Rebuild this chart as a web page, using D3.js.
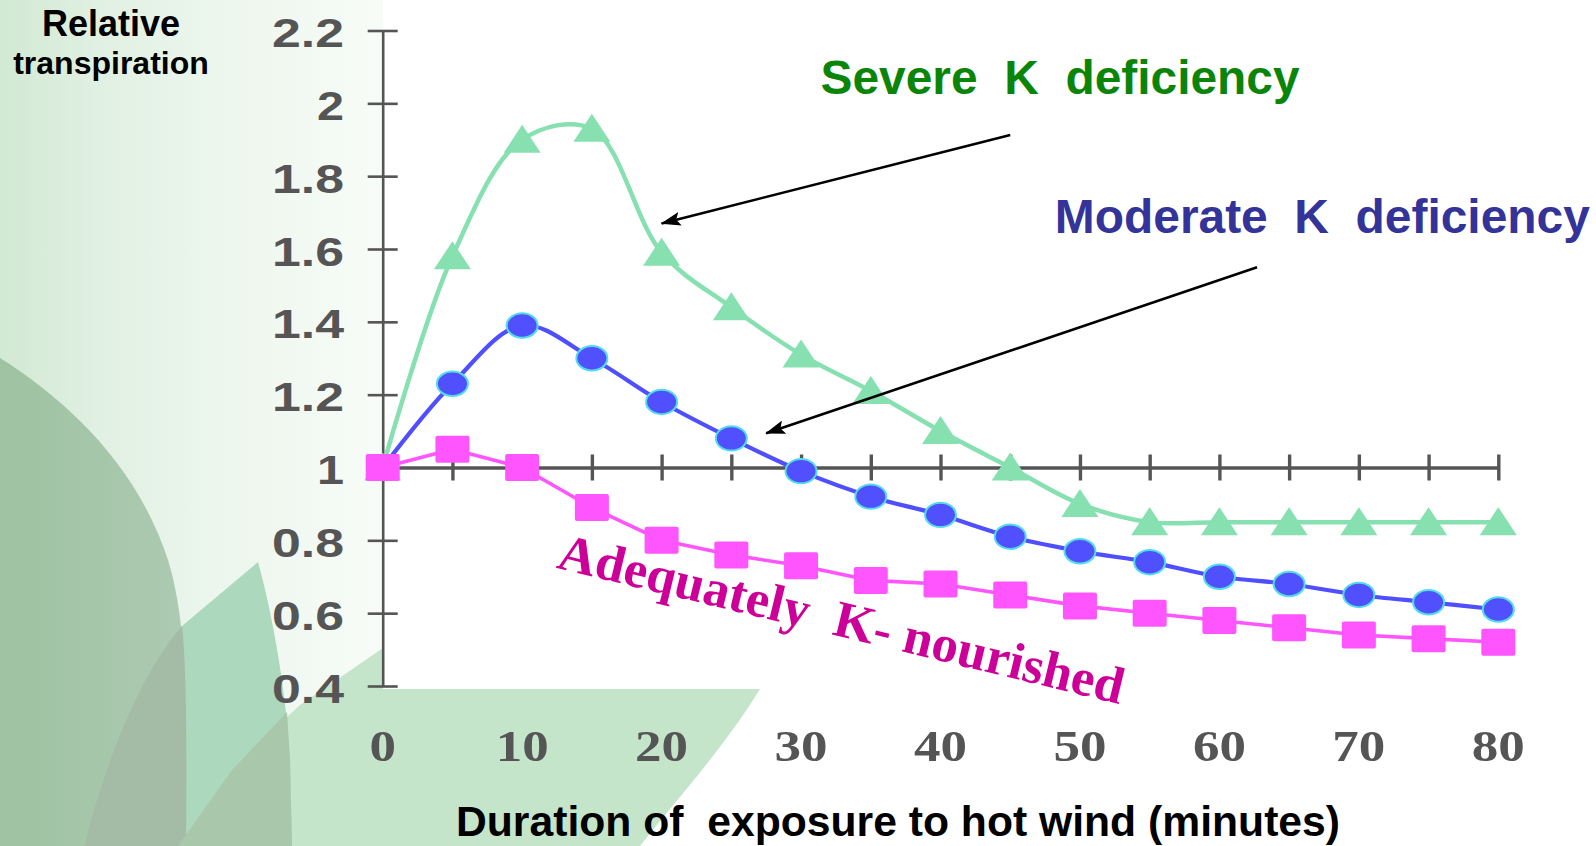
<!DOCTYPE html>
<html>
<head>
<meta charset="utf-8">
<script src="https://cdn.jsdelivr.net/npm/d3@7"></script>
<style>
  html, body { margin: 0; padding: 0; background: #fff; }
  svg { display: block; }
  text { white-space: pre; }
</style>
</head>
<body>
<svg id="chart" width="1596" height="846"></svg>
<script>
// Relative transpiration of plants exposed to hot wind, by potassium status
const minutes   = [0, 5, 10, 15, 20, 25, 30, 35, 40, 45, 50, 55, 60, 65, 70, 75, 80];
const severe    = [1.00, 1.58, 1.90, 1.93, 1.59, 1.44, 1.31, 1.21, 1.10, 1.00, 0.90, 0.85, 0.85, 0.85, 0.85, 0.85, 0.85];
const moderate  = [1.00, 1.23, 1.39, 1.30, 1.18, 1.08, 0.99, 0.92, 0.87, 0.81, 0.77, 0.74, 0.70, 0.68, 0.65, 0.63, 0.61];
const adequate  = [1.00, 1.05, 1.00, 0.89, 0.80, 0.76, 0.73, 0.69, 0.68, 0.65, 0.62, 0.60, 0.58, 0.56, 0.54, 0.53, 0.52];
const xTickMarks  = [0, 5, 10, 15, 20, 25, 30, 35, 40, 45, 50, 55, 60, 65, 70, 75, 80];
const xTickLabels = ["0", "10", "20", "30", "40", "50", "60", "70", "80"];
const yTickValues = [0.4, 0.6, 0.8, 1.0, 1.2, 1.4, 1.6, 1.8, 2.0, 2.2];
const yTickLabels = ["0.4", "0.6", "0.8", "1", "1.2", "1.4", "1.6", "1.8", "2", "2.2"];

const svg = d3.select("#chart");
const W = 1596, H = 846;

const x = d3.scaleLinear().domain([0, 80]).range([382.7, 1498.3]);
const y = d3.scaleLinear().domain([0.4, 2.2]).range([686, 30.5]);

// ---------- backdrop ----------
const defs = svg.append("defs");
const bg = defs.append("linearGradient").attr("id", "bgGrad")
  .attr("gradientUnits", "userSpaceOnUse").attr("x1", 0).attr("x2", 480).attr("y1", 0).attr("y2", 0);
[[0, "#d2e9d3"], [0.2, "#e0f0e2"], [0.45, "#ecf6ed"], [0.75, "#f6fbf6"], [1, "#ffffff"]]
  .forEach(([o, c]) => bg.append("stop").attr("offset", o).attr("stop-color", c));

const leafA = defs.append("linearGradient").attr("id", "leafA")
  .attr("x1", 0).attr("x2", 1).attr("y1", 0).attr("y2", 0);
[[0, "#9ec2a2"], [1, "#adcab2"]].forEach(([o, c]) => leafA.append("stop").attr("offset", o).attr("stop-color", c));

svg.append("rect").attr("width", W).attr("height", H).attr("fill", "url(#bgGrad)");

// soft green band along the bottom
svg.append("path")
  .attr("d", "M160,846 L230,770 L300,705 L383,648 L383,689 L760,689 C724,748 676,800 640,846 Z")
  .attr("fill", "#c4e5c9");
// large leaf on the left
svg.append("path")
  .attr("d", "M0,358 C70,402 138,468 168,560 C188,625 188,720 186,846 L0,846 Z")
  .attr("fill", "url(#leafA)");
// pointed leaf
svg.append("path")
  .attr("d", "M84,846 C110,742 148,664 182,626 L258,562 C272,612 286,690 290,760 L292,846 Z")
  .attr("fill", "#acd8be");
// leaf overlaps
svg.append("path")
  .attr("d", "M84,846 C110,742 148,664 182,626 C186,660 187,740 186,846 Z")
  .attr("fill", "#a4bba6");
svg.append("path")
  .attr("d", "M178,846 L232,770 L287,712 L290,760 L292,846 Z")
  .attr("fill", "#a9c8ab");

// white plotting field
svg.append("rect").attr("x", 383).attr("y", 0).attr("width", W - 383).attr("height", 689)
  .attr("fill", "#ffffff");

// ---------- axes ----------
const axisColor = "#555555";

const yAxis = svg.append("g").attr("transform", `translate(${x(0)},0)`)
  .call(d3.axisLeft(y).tickValues(yTickValues).tickSizeOuter(0)
    .tickFormat((d, i) => yTickLabels[i]));
yAxis.select(".domain").attr("stroke", axisColor).attr("stroke-width", 2.6);
yAxis.selectAll(".tick line").attr("x1", -15).attr("x2", 15)
  .attr("stroke", axisColor).attr("stroke-width", 2.6);
yAxis.selectAll(".tick text")
  .attr("x", -(x(0) - 344)).attr("dy", 0).attr("y", 16)
  .attr("fill", axisColor)
  .style("font-family", "'Liberation Sans', Arial, sans-serif")
  .style("font-weight", "bold").style("font-size", "40px")
  .attr("text-anchor", "end")
  .attr("textLength", d => { const s = yTickLabels[yTickValues.indexOf(d)]; return s.replace(".", "").length * 27 + (s.includes(".") ? 18 : 0); })
  .attr("lengthAdjust", "spacingAndGlyphs");

const xAxis = svg.append("g").attr("transform", `translate(0,${y(1)})`)
  .call(d3.axisBottom(x).tickValues(xTickMarks).tickSizeOuter(0).tickFormat(""));
xAxis.select(".domain").attr("stroke", axisColor).attr("stroke-width", 3.6);
xAxis.selectAll(".tick line").attr("y1", -13).attr("y2", 13)
  .attr("stroke", axisColor).attr("stroke-width", 3.4);

svg.append("g").selectAll("text").data(xTickLabels).join("text")
  .attr("x", d => x(+d)).attr("y", 761)
  .attr("text-anchor", "middle")
  .attr("fill", axisColor)
  .style("font-family", "'Liberation Serif', 'Times New Roman', serif")
  .style("font-weight", "bold").style("font-size", "45px")
  .attr("textLength", d => d.length * 26.5)
  .attr("lengthAdjust", "spacingAndGlyphs")
  .text(d => d);

// axis titles
const title = svg.append("g").attr("fill", "#000")
  .style("font-family", "'Liberation Sans', Arial, sans-serif").style("font-weight", "bold")
  .attr("text-anchor", "middle");
title.append("text").attr("x", 111).attr("y", 36).style("font-size", "36px").text("Relative");
title.append("text").attr("x", 111).attr("y", 74).style("font-size", "32px").text("transpiration");
svg.append("text")
  .attr("x", 456).attr("y", 836)
  .style("font-family", "'Liberation Sans', Arial, sans-serif").style("font-weight", "bold")
  .style("font-size", "42px").attr("fill", "#000")
  .attr("textLength", 884).attr("lengthAdjust", "spacingAndGlyphs")
  .text("Duration of  exposure to hot wind (minutes)");

// ---------- series ----------
const rows = (vals) => minutes.map((m, i) => ({ m, v: vals[i] }));
const smooth = d3.line().x(d => x(d.m)).y(d => y(d.v)).curve(d3.curveCatmullRom.alpha(0.5));
const straight = d3.line().x(d => x(d.m)).y(d => y(d.v));

const green = "#86e0b0", blue = "#4f4fff", pink = "#ff55ff";

// severe deficiency: triangles
svg.append("path").datum(rows(severe)).attr("d", smooth)
  .attr("fill", "none").attr("stroke", green).attr("stroke-width", 4.5).attr("stroke-linejoin", "round");
svg.append("g").selectAll("path").data(rows(severe)).join("path")
  .attr("transform", d => `translate(${x(d.m)},${y(d.v)})`)
  .attr("d", "M0,-15 L18.5,13 L-18.5,13 Z")
  .attr("fill", green);

// moderate deficiency: ellipses
svg.append("path").datum(rows(moderate)).attr("d", smooth)
  .attr("fill", "none").attr("stroke", blue).attr("stroke-width", 4.2).attr("stroke-linejoin", "round");
svg.append("g").selectAll("ellipse").data(rows(moderate)).join("ellipse")
  .attr("cx", d => x(d.m)).attr("cy", d => y(d.v))
  .attr("rx", 15.5).attr("ry", 12.2)
  .attr("fill", "#5050ff").attr("stroke", "#52dde6").attr("stroke-width", 2);

// adequately nourished: squares
svg.append("path").datum(rows(adequate)).attr("d", straight)
  .attr("fill", "none").attr("stroke", pink).attr("stroke-width", 3.6).attr("stroke-linejoin", "round");
svg.append("g").selectAll("rect").data(rows(adequate)).join("rect")
  .attr("x", d => x(d.m) - 17).attr("y", d => y(d.v) - 13.5)
  .attr("width", 34).attr("height", 27).attr("rx", 2)
  .attr("fill", pink);

// ---------- annotations ----------
defs.append("marker").attr("id", "arrowHead")
  .attr("viewBox", "0 0 20 14").attr("refX", 19).attr("refY", 7)
  .attr("markerWidth", 20).attr("markerHeight", 14)
  .attr("markerUnits", "userSpaceOnUse").attr("orient", "auto")
  .append("path").attr("d", "M0,0 L20,7 L0,14 L4,7 Z").attr("fill", "#000");

const arrows = [
  { from: [45.0, 1.913], to: [20.0, 1.67] },
  { from: [62.7, 1.55], to: [27.5, 1.094] }
];
svg.append("g").selectAll("line").data(arrows).join("line")
  .attr("x1", d => x(d.from[0])).attr("y1", d => y(d.from[1]))
  .attr("x2", d => x(d.to[0])).attr("y2", d => y(d.to[1]))
  .attr("stroke", "#000").attr("stroke-width", 2.6)
  .attr("marker-end", "url(#arrowHead)");

const sans = "'Liberation Sans', Arial, sans-serif";
svg.append("text")
  .attr("x", x(31.4)).attr("y", y(2.026))
  .style("font-family", sans).style("font-weight", "bold").style("font-size", "48px")
  .attr("fill", "#0a850a")
  .attr("textLength", 479).attr("lengthAdjust", "spacingAndGlyphs")
  .text("Severe  K  deficiency");
svg.append("text")
  .attr("x", x(48.2)).attr("y", y(1.644))
  .style("font-family", sans).style("font-weight", "bold").style("font-size", "48px")
  .attr("fill", "#333399")
  .attr("textLength", 535).attr("lengthAdjust", "spacingAndGlyphs")
  .text("Moderate  K  deficiency");
svg.append("text")
  .attr("transform", `translate(${x(12.4)},${y(0.725)}) rotate(13.6)`)
  .style("font-family", "'Liberation Serif', 'Times New Roman', serif")
  .style("font-weight", "bold").style("font-size", "52px")
  .attr("fill", "#cc0099")
  .attr("textLength", 580).attr("lengthAdjust", "spacingAndGlyphs")
  .text("Adequately  K- nourished");
</script>
</body>
</html>
